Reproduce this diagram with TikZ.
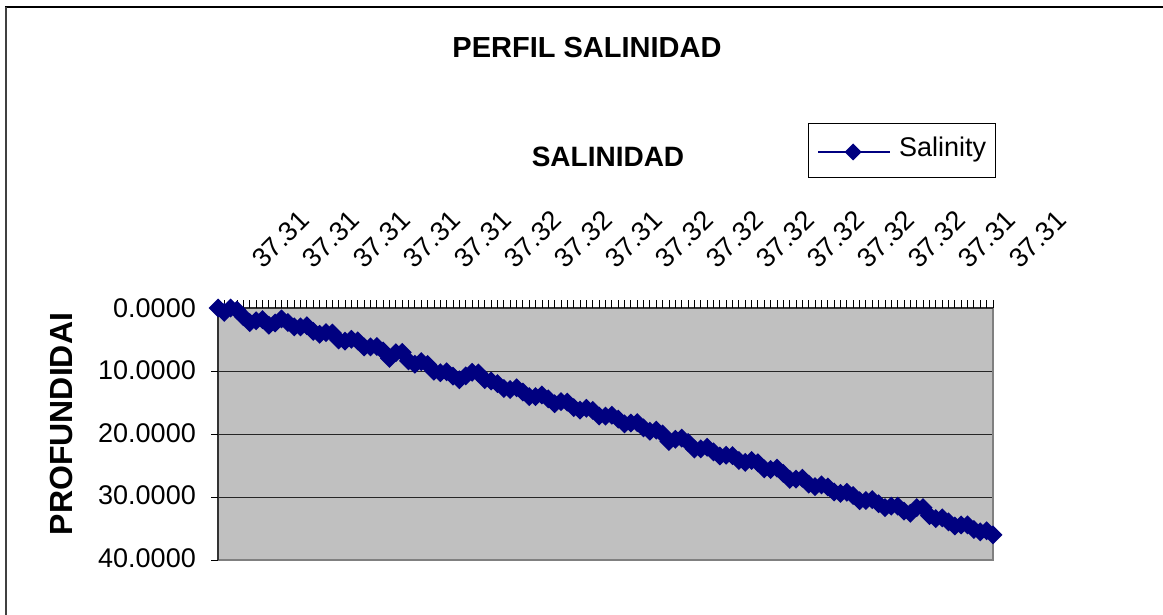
\documentclass[tikz,border=0pt]{standalone}
\usepackage{fontspec}
\setmainfont{Liberation Sans}
\definecolor{navy}{RGB}{0,0,128}
\definecolor{plotgray}{RGB}{192,192,192}
\definecolor{edgegray}{RGB}{128,128,128}
\def\depths{0.0,0.3,0.1,0.7,1.2,2.0,2.3,2.1,2.4,2.2,2.1,2.4,2.6,3.0,3.2,3.6,3.8,4.1,4.3,4.8,5.0,5.3,5.4,5.8,6.1,6.5,6.8,7.6,7.2,7.4,8.2,8.6,8.8,9.2,9.7,10.1,10.5,10.9,11.0,10.8,10.6,10.2,11.0,11.8,12.3,12.5,12.7,13.0,13.5,13.7,14.0,14.2,14.4,14.8,15.0,15.3,15.6,15.9,16.2,16.5,16.8,17.0,17.4,17.7,18.0,18.3,18.6,18.9,19.2,19.6,20.3,20.9,20.6,21.0,21.5,22.0,22.3,22.5,22.8,23.1,23.5,23.8,24.0,24.2,24.5,24.8,25.2,25.5,25.8,26.3,26.8,27.2,27.4,27.8,28.0,28.3,28.7,28.9,29.2,29.6,29.9,30.2,30.5,30.8,31.0,31.3,31.6,31.8,32.0,32.3,32.0,31.9,32.6,33.3,33.7,34.0,34.2,34.5,34.8,35.0,35.2,35.6,36.3}
\begin{document}
\begin{tikzpicture}[x=1pt,y=-1pt,
  ticklab/.style={font=\fontsize{27}{30}\selectfont, inner sep=0pt},
  titlelab/.style={font=\bfseries\fontsize{29}{32}\selectfont, inner sep=0pt},
  axtitle/.style={font=\bfseries\fontsize{28}{31}\selectfont, inner sep=0pt},
  series/.style={navy, line width=2pt},
  gridline/.style={black!85, line width=1pt},
  tickmark/.style={black, line width=0.9pt}]
\useasboundingbox (0,0) rectangle (1163,615);
\fill[white] (0,0) rectangle (1163,615);
% outer chart border (top and left visible)
\draw[black, line width=1.5pt] (5,7) -- (1163,7);
\draw[black!75, line width=2pt] (6,7) -- (6,615);
% plot area
\fill[plotgray] (218,308) rectangle (993,560);
\foreach \y in {371,434,497} \draw[gridline] (218,\y) -- (993,\y);
\draw[edgegray, line width=2.5pt] (218,560) -- (993,560) -- (993,308);
\draw[black!80, line width=1.3pt] (218,560) -- (218,308) -- (993,308);
% value axis ticks and labels
\foreach \v [count=\k from 0] in {0.0000,10.0000,20.0000,30.0000,40.0000} {
  \draw[tickmark] (211,{308+63*\k}) -- (218,{308+63*\k});
  \node[ticklab, anchor=base east] (yl\k) at (196,{317+62.5*\k}) {\v};
}
% category axis ticks
\foreach \i in {0,...,122} \draw[tickmark] ({218+\i*6.352},300) -- ({218+\i*6.352},308);
% category labels
\foreach \v [count=\k from 0] in {37.31,37.31,37.31,37.31,37.31,37.32,37.32,37.31,37.32,37.32,37.32,37.32,37.32,37.32,37.31,37.31}
  \node[ticklab, rotate=45, anchor=base west] (xl\k) at ({263+50.47*\k},270) {\v};
% titles
\node[titlelab, anchor=base] (title) at (587,58) {PERFIL SALINIDAD};
\node[axtitle, anchor=base] (xtitle) at (608,167) {SALINIDAD};
\node[font=\bfseries\fontsize{32}{35}\selectfont, inner sep=0pt, rotate=90, anchor=base] (ytitle) at (72,424) {PROFUNDIDAI};
% data series
\foreach \d [count=\i from 0, remember=\d as \dp (initially 0.0)] in \depths {
  \ifnum\i>0
    \draw[series] ({218+(\i-1)*6.352},{308+6.3*\dp+2.5*sin((\i-1)*97)}) -- ({218+\i*6.352},{308+6.3*\d+2.5*sin(\i*97)});
  \fi
}
\foreach \d [count=\i from 0] in \depths
  \fill[navy] ({218+\i*6.352},{308+6.3*\d+2.5*sin(\i*97)}) +(0,-9.5) -- +(9.5,0) -- +(0,9.5) -- +(-9.5,0) -- cycle;
% legend
\node[draw=black, line width=1pt, minimum width=187pt, minimum height=54pt, anchor=north west, inner sep=0pt, fill=white] (legend) at (808,123) {};
\coordinate (legA) at (818,152);
\coordinate (legB) at (890,152);
\draw[series] (legA) -- (legB);
\fill[navy] (853,152) +(0,-8.5) -- +(8.5,0) -- +(0,8.5) -- +(-8.5,0) -- cycle;
\node[ticklab, anchor=base west] (legtext) at (899,157) {Salinity};
\end{tikzpicture}
\end{document}
